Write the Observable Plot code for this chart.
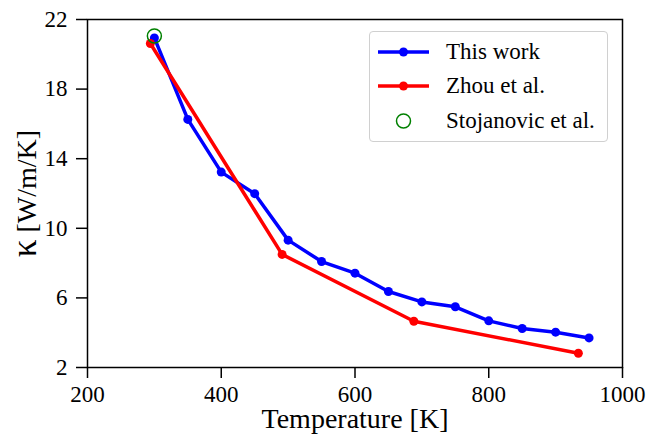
<!DOCTYPE html>
<html>
<head>
<meta charset="utf-8">
<script src="https://cdn.jsdelivr.net/npm/d3@7"></script>
<script src="https://cdn.jsdelivr.net/npm/@observablehq/plot@0.6"></script>
<style>
  html, body { margin: 0; padding: 0; background: white; }
  #wrap { position: relative; width: 655px; height: 437px; font-family: 'Liberation Serif', serif; }
  #wrap svg text { font-family: 'Liberation Serif', serif !important; }
  #legend { position: absolute; left: 369px; top: 31px; width: 239px; height: 111px;
            border: 1px solid #d0d0d0; border-radius: 4px; background: rgba(255,255,255,0.8); box-sizing: border-box;
            font-family: 'Liberation Serif', serif; }
  .row { position: absolute; left: 0; height: 34px; width: 100%; }
  .row svg { position: absolute; left: 7px; top: 0; }
  .row span { position: absolute; left: 76px; top: 0; line-height: 34px; font-size: 23px; color: black; white-space: nowrap;
              font-family: 'Liberation Serif', serif; }
</style>
</head>
<body>
<div id="wrap"></div>
<script>
// ---- data ----
const thisWorkT = [300, 350, 400, 450, 500, 550, 600, 650, 700, 750, 800, 850, 900, 950];
const thisWorkK = [20.94, 16.26, 13.23, 11.99, 9.32, 8.09, 7.42, 6.37, 5.77, 5.49, 4.68, 4.24, 4.03, 3.70];
const zhouT = [294, 491, 688, 934];
const zhouK = [20.62, 8.5, 4.66, 2.82];
const stojT = [300];
const stojK = [21.05];
const xTicks = [200, 400, 600, 800, 1000];
const yTicks = [2, 6, 10, 14, 18, 22];
const seriesNames = ["This work", "Zhou et al.", "Stojanovic et al."];
const seriesColors = ["#0000ff", "#ff0000", "#008000"];
const xLabel = "Temperature [K]";
const yLabelSymbol = "κ";
const yLabelUnit = " [W/m/K]";
const yLabel = yLabelSymbol + yLabelUnit;

const FONT = "'Liberation Serif', serif";
const thisWork = thisWorkT.map((t, i) => ({T: t, k: thisWorkK[i]}));
const zhou = zhouT.map((t, i) => ({T: t, k: zhouK[i]}));
const stoj = stojT.map((t, i) => ({T: t, k: stojK[i]}));

const chart = Plot.plot({
  width: 655,
  height: 437,
  marginLeft: 87,
  marginRight: 33,
  marginTop: 19,
  marginBottom: 70,
  style: {fontFamily: FONT, fontSize: "23px", background: "white", color: "black", overflow: "visible"},
  x: {domain: [200, 1000]},
  y: {domain: [2, 22]},
  marks: [
    Plot.line(thisWork, {x: "T", y: "k", stroke: seriesColors[0], strokeWidth: 3.5}),
    Plot.dot(thisWork, {x: "T", y: "k", fill: seriesColors[0], r: 4.5}),
    Plot.line(zhou, {x: "T", y: "k", stroke: seriesColors[1], strokeWidth: 3.5}),
    Plot.dot(zhou, {x: "T", y: "k", fill: seriesColors[1], r: 4.5}),
    Plot.dot(stoj, {x: "T", y: "k", stroke: seriesColors[2], fill: "none", r: 7, strokeWidth: 1.5}),
    Plot.frame({stroke: "black", strokeWidth: 1.5}),
    Plot.axisX({ticks: xTicks, tickSize: 11, tickPadding: 7, strokeWidth: 1.5, fontSize: 23, fontFamily: FONT, label: null, tickFormat: d => String(d)}),
    Plot.axisY({ticks: yTicks, tickSize: 11, tickPadding: 9, strokeWidth: 1.5, fontSize: 23, fontFamily: FONT, label: null, tickFormat: d => String(d)}),
    Plot.text([xLabel], {frameAnchor: "bottom", dy: 52, fontSize: 28, fontFamily: FONT, lineAnchor: "middle", textAnchor: "middle"}),
    Plot.text([yLabel], {frameAnchor: "left", dx: -60, fontSize: 28, fontFamily: FONT, rotate: -90, lineAnchor: "middle", textAnchor: "middle"})
  ]
});

// enlarge the kappa symbol like matplotlib mathtext
d3.select(chart).selectAll("text").filter(function() { return this.textContent === yLabel; })
  .each(function() {
    const t = d3.select(this);
    t.text(null);
    t.append("tspan").attr("font-size", 35).text(yLabelSymbol);
    t.append("tspan").text(yLabelUnit);
  });

const wrap = document.getElementById("wrap");
wrap.appendChild(chart);

// ---- legend ----
const legend = document.createElement("div");
legend.id = "legend";
const rowTops = [3, 37, 72];
seriesNames.forEach((name, i) => {
  const row = document.createElement("div");
  row.className = "row";
  row.style.top = rowTops[i] + "px";
  const ns = "http://www.w3.org/2000/svg";
  const s = document.createElementNS(ns, "svg");
  s.setAttribute("width", "54");
  s.setAttribute("height", "34");
  if (i < 2) {
    const ln = document.createElementNS(ns, "line");
    ln.setAttribute("x1", "1"); ln.setAttribute("x2", "52");
    ln.setAttribute("y1", "17"); ln.setAttribute("y2", "17");
    ln.setAttribute("stroke", seriesColors[i]); ln.setAttribute("stroke-width", "3.5");
    s.appendChild(ln);
    const c = document.createElementNS(ns, "circle");
    c.setAttribute("cx", "26.5"); c.setAttribute("cy", "17"); c.setAttribute("r", "4.5");
    c.setAttribute("fill", seriesColors[i]);
    s.appendChild(c);
  } else {
    const c = document.createElementNS(ns, "circle");
    c.setAttribute("cx", "26.5"); c.setAttribute("cy", "17"); c.setAttribute("r", "7");
    c.setAttribute("fill", "none"); c.setAttribute("stroke", seriesColors[i]); c.setAttribute("stroke-width", "1.5");
    s.appendChild(c);
  }
  row.appendChild(s);
  const sp = document.createElement("span");
  sp.textContent = name;
  row.appendChild(sp);
  legend.appendChild(row);
});
wrap.appendChild(legend);
</script>
</body>
</html>
